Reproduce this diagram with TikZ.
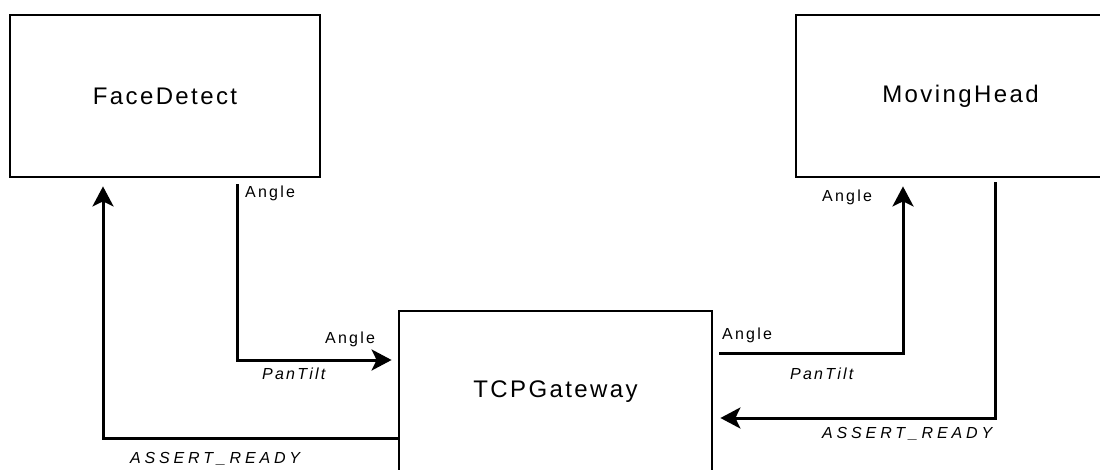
\documentclass[tikz,border=0pt]{standalone}
\usepackage{fontspec}
\setmainfont{Liberation Sans}
\newfontfamily\bigf[LetterSpace=10]{Liberation Sans}
\newfontfamily\smallf[LetterSpace=14]{Liberation Sans}
\newfontfamily\assertf[LetterSpace=24]{Liberation Sans}
\usetikzlibrary{arrows.meta}
\tikzset{
  block/.style={draw=black, line width=2.8pt, rectangle, inner sep=0pt,
    font=\bigf\fontsize{24}{28}\selectfont},
  arr/.style={line width=3pt, -{Stealth[length=20pt,width=21pt,inset=5pt]},
    line join=miter},
  lbl/.style={anchor=base west, inner sep=0pt, font=\smallf\fontsize{16}{19}\selectfont},
  ilbl/.style={lbl, font=\smallf\itshape\fontsize{16}{19}\selectfont},
  albl/.style={lbl, font=\assertf\itshape\fontsize{16}{19}\selectfont}
}
\begin{document}
\begin{tikzpicture}[x=1pt,y=-1pt]
\useasboundingbox (0,0) rectangle (1100,470);
\clip (0,0) rectangle (1100,470);
\fill[white] (0,0) rectangle (1100,470);
\node[block, minimum width=310pt, minimum height=162pt] (fd) at (165,96) {FaceDetect};
\node[block, minimum width=329pt, minimum height=162pt] (mh) at (960.5,96) {MovingHead};
\node[block, minimum width=313pt, minimum height=162pt] (tcp) at (555.5,392) {TCPGateway};
% FaceDetect -> TCPGateway
\draw[arr, shorten >=6pt] ([shift={(72pt,-6pt)}]fd.south) |- ([yshift=32pt]tcp.west);
% TCPGateway -> FaceDetect
\draw[arr, shorten >=8pt] ([yshift=-46pt]tcp.west) -| ([xshift=-62pt]fd.south);
% TCPGateway -> MovingHead
\draw[arr, shorten >=8pt] ([shift={(6pt,39pt)}]tcp.east) -| ([xshift=-57.5pt]mh.south);
% MovingHead -> TCPGateway
\draw[arr, shorten >=7pt] ([shift={(34.5pt,-4pt)}]mh.south) |- ([yshift=-26pt]tcp.east);
% labels
\node[lbl] (l1) at (245,198) {Angle};
\node[lbl] (l2) at (325,343) {Angle};
\node[ilbl] (l3) at (262,379) {PanTilt};
\node[albl] (l4) at (130,463) {ASSERT\_READY};
\node[lbl] (l5) at (722,339) {Angle};
\node[ilbl] (l6) at (790,379) {PanTilt};
\node[albl] (l7) at (822,438) {ASSERT\_READY};
\node[lbl] (l8) at (822,202) {Angle};
\end{tikzpicture}
\end{document}
